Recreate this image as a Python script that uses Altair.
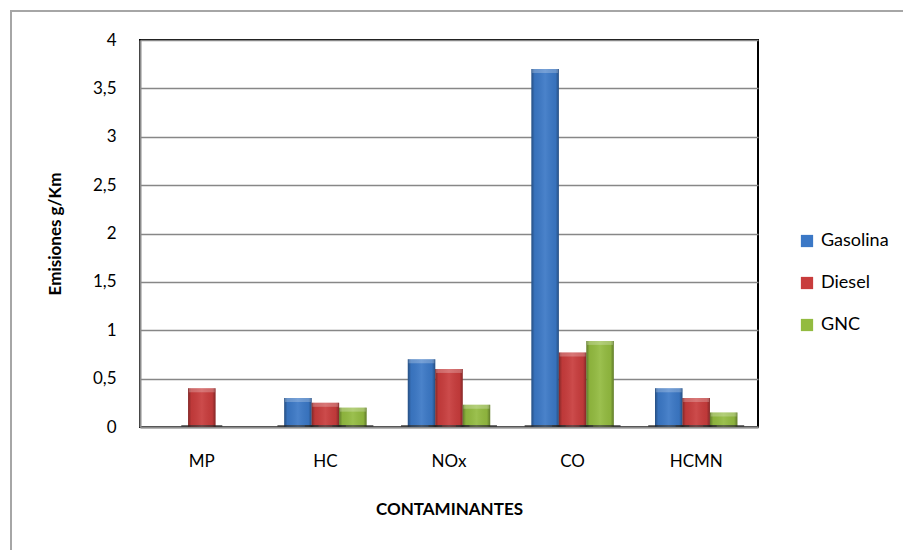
import altair as alt
import pandas as pd

# Emisiones por contaminante y combustible (g/Km)
categories = ["MP", "HC", "NOx", "CO", "HCMN"]
series = ["Gasolina", "Diesel", "GNC"]
gasolina = [None, 0.30, 0.70, 3.70, 0.40]
diesel = [0.40, 0.25, 0.60, 0.77, 0.30]
gnc = [None, 0.20, 0.23, 0.89, 0.15]
y_ticks = [0, 0.5, 1, 1.5, 2, 2.5, 3, 3.5, 4]
colors = ["#3b78c6", "#c83c3c", "#93bb40"]

rows = []
for name, vals in zip(series, [gasolina, diesel, gnc]):
    for cat, v in zip(categories, vals):
        if v is not None:
            rows.append({"Contaminante": cat, "Combustible": name, "Emisiones": v})
df = pd.DataFrame(rows)

FONT = "Lato"
W, H = 618, 387

x_enc = alt.X(
    "Contaminante:N",
    sort=categories,
    scale=alt.Scale(paddingInner=1 / 3, paddingOuter=1 / 6),
    axis=alt.Axis(
        title="CONTAMINANTES",
        labelAngle=0,
        ticks=False,
        labelPadding=26,
        labelFontSize=17,
        labelColor="#000000",
        titleFontSize=17,
        titleFontWeight="bold",
        titleColor="#000000",
        titleY=82,
        titleBaseline="middle",
        domainColor="#8c8c8c",
        domainWidth=2,
        grid=False,
    ),
)
xoff = alt.XOffset("Combustible:N", sort=series, scale=alt.Scale(paddingInner=0, paddingOuter=0))
y_scale = alt.Scale(domain=[0, 4], nice=False)
y_axis = alt.Axis(
    title="Emisiones g/Km",
    values=y_ticks,
    labelExpr="replace(format(datum.value, '~g'), '.', ',')",
    ticks=False,
    labelPadding=24,
    labelFontSize=17,
    labelColor="#000000",
    titleFontSize=17,
    titleFontWeight="bold",
    titleColor="#000000",
    titleX=-85,
    titleY=H / 2,
    titleAngle=-90,
    titleAlign="center",
    titleBaseline="middle",
    domainColor="#8c8c8c",
    domainWidth=2,
    grid=True,
    gridColor="#878787",
    gridWidth=1.5,
)
y_enc = alt.Y("Emisiones:Q", scale=y_scale, axis=y_axis)

base = alt.Chart(df)

bars = base.mark_bar(stroke=None).encode(
    x=x_enc,
    xOffset=xoff,
    y=y_enc,
    color=alt.Color(
        "Combustible:N",
        sort=series,
        scale=alt.Scale(domain=series, range=colors),
        legend=alt.Legend(
            title=None,
            orient="none",
            legendX=658,
            legendY=192,
            symbolType="square",
            symbolSize=150,
            symbolStrokeWidth=0,
            symbolOpacity=1,
            labelFontSize=18,
            labelColor="#000000",
            labelOffset=5,
            rowPadding=24,
            padding=0,
        ),
    ),
)

# Bevel shading over each bar: darker sides, lighter middle
shade = base.mark_bar(
    color=alt.Gradient(
        gradient="linear",
        x1=0, x2=1, y1=0, y2=0,
        stops=[
            alt.GradientStop(color="rgba(0,0,0,0.35)", offset=0),
            alt.GradientStop(color="rgba(0,0,0,0.05)", offset=0.12),
            alt.GradientStop(color="rgba(255,255,255,0.08)", offset=0.5),
            alt.GradientStop(color="rgba(0,0,0,0.05)", offset=0.88),
            alt.GradientStop(color="rgba(0,0,0,0.35)", offset=1),
        ],
    )
).encode(x=x_enc, xOffset=xoff, y=y_enc)

# Lighter cap along the top edge of each bar
cap = base.mark_tick(thickness=4, size=26, color="rgba(255,255,255,0.35)", yOffset=2).encode(
    x=x_enc, xOffset=xoff, y=y_enc
)

# Dark footing line under each bar group
foot = base.transform_calculate(base0="0").mark_tick(
    thickness=2, size=41, color="#333333", yOffset=-1
).encode(
    x=x_enc, xOffset=xoff, y=alt.Y("base0:Q", scale=y_scale, axis=y_axis)
)

# Outer chart frame
frame = alt.Chart(pd.DataFrame({"k": [0]})).mark_rect(
    fill=None, stroke="#a6a6a6", strokeWidth=2
).encode(
    x=alt.value(-129), x2=alt.value(900), y=alt.value(-29), y2=alt.value(700)
)

chart = (
    alt.layer(bars, foot, shade, cap, frame)
    .properties(
        width=W,
        height=H,
        autosize=alt.AutoSizeParams(type="none"),
        padding={"left": 140, "top": 40, "right": 145, "bottom": 123},
        background="#ffffff",
    )
    .configure(font=FONT)
    .configure_view(stroke="#000000", strokeWidth=2)
    .configure_axisY(grid=True)
)

chart.save("out.html", embed_options={"renderer": "svg", "actions": False})
